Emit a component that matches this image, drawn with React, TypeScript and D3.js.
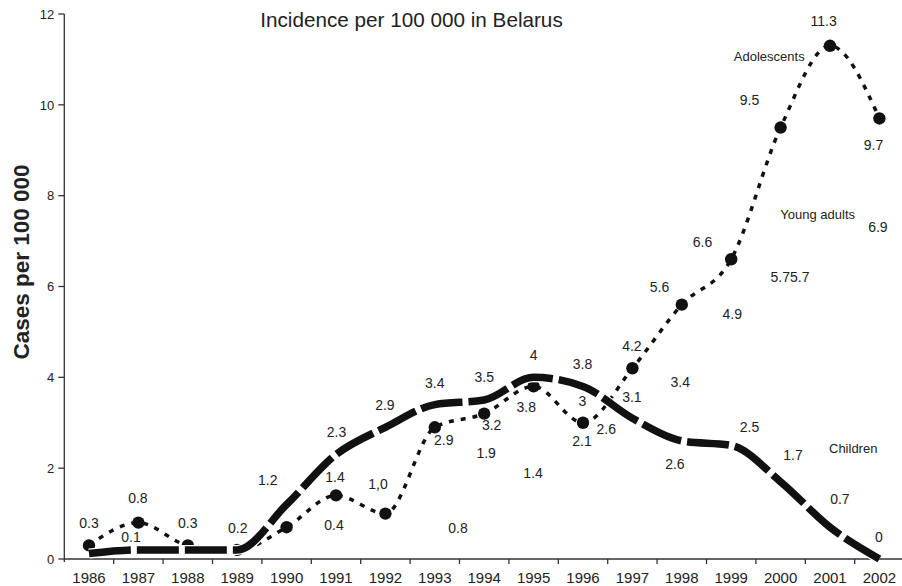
import React from "react";
import * as d3 from "d3";

const years = [1986, 1987, 1988, 1989, 1990, 1991, 1992, 1993, 1994, 1995, 1996, 1997, 1998, 1999, 2000, 2001, 2002];
const adolescents = [0.3, 0.8, 0.3, 0.2, 0.7, 1.4, 1.0, 2.9, 3.2, 3.8, 3.0, 4.2, 5.6, 6.6, 9.5, 11.3, 9.7];
const children = [0.12, 0.2, 0.2, 0.2, 1.2, 2.3, 2.9, 3.4, 3.5, 4.0, 3.8, 3.1, 2.6, 2.5, 1.7, 0.7, 0];
const yTicks = [0, 2, 4, 6, 8, 10, 12];

// value annotations: text, position in (year, value) units
const labelText = ["0.3", "0.8", "0.1", "0.3", "0.2", "1.2", "2.3", "1.4", "0.4", "2.9", "1,0", "3.4", "2.9", "0.8", "3.5", "3.2", "1.9", "4", "3.8", "1.4", "3.8", "3", "2.1", "2.6", "4.2", "3.1", "3.4", "2.6", "2.5", "1.7", "0.7", "0", "11.3", "9.5", "9.7", "6.9", "6.6", "5.75.7", "5.6", "4.9"];
const labelYear = [1986.0, 1986.99, 1986.85, 1988.0, 1989.01, 1989.62, 1991.01, 1990.98, 1990.96, 1991.99, 1991.85, 1993.0, 1993.18, 1993.47, 1994.0, 1994.15, 1994.04, 1995.0, 1994.85, 1994.99, 1995.99, 1995.99, 1995.98, 1996.47, 1996.99, 1996.99, 1997.97, 1997.86, 1999.37, 2000.25, 2001.2, 2001.99, 2000.87, 1999.37, 2001.88, 2001.97, 1998.42, 2000.19, 1997.55, 1999.02];
const labelValue = [0.79, 1.34, 0.49, 0.79, 0.69, 1.74, 2.79, 1.81, 0.76, 3.39, 1.65, 3.88, 2.62, 0.68, 4.0, 2.95, 2.33, 4.5, 3.35, 1.89, 4.29, 3.49, 2.6, 2.87, 4.68, 3.57, 3.89, 2.1, 2.9, 2.28, 1.32, 0.48, 11.85, 10.11, 9.12, 7.32, 6.98, 6.22, 5.98, 5.39];

const seriesNames = ["Adolescents", "Young adults", "Children"];
const seriesNameYear = [1999.77, 2000.75, 2001.47];
const seriesNameValue = [11.06, 7.58, 2.44];

const title = "Incidence per 100 000 in Belarus";
const yTitle = "Cases per 100 000";

export default function App() {
  const W = 902, H = 586;
  const left = 64.3, right = 904.1, top = 14, bottom = 559;
  const xBand = d3.scaleBand<number>().domain(years).range([left, right]).padding(0);
  const bw = xBand.bandwidth();
  const xLin = d3.scaleLinear().domain([years[0], years[years.length - 1]])
    .range([xBand(years[0])! + bw / 2, xBand(years[years.length - 1])! + bw / 2]);
  const y = d3.scaleLinear().domain([0, 12]).range([bottom, top]);

  const lineGen = d3.line<number>()
    .x((_, i) => xBand(years[i])! + bw / 2)
    .y((d) => y(d))
    .curve(d3.curveMonotoneX);

  const font = "'Liberation Sans', Arial, Helvetica, sans-serif";
  const txt = "#222";

  return (
    <svg width={W} height={H} style={{ position: "absolute", left: 0, top: 0, background: "#fff" }} fontFamily={font}>
      <rect x={0} y={0} width={W} height={H} fill="#fff" />
      {/* axes */}
      <line x1={left} x2={left} y1={top} y2={bottom + 3} stroke="#333" strokeWidth={1.3} />
      <line x1={left} x2={W} y1={bottom} y2={bottom} stroke="#333" strokeWidth={1.3} />
      {yTicks.map((t) => (
        <g key={t}>
          <line x1={left - 6} x2={left} y1={y(t)} y2={y(t)} stroke="#333" strokeWidth={1.3} />
          <text x={left - 10} y={y(t)} dy="0.36em" textAnchor="end" fontSize={13} fill={txt}>{t}</text>
        </g>
      ))}
      {years.map((yr, i) => (
        <g key={yr}>
          {i > 0 && <line x1={xBand(yr)!} x2={xBand(yr)!} y1={bottom} y2={bottom + 5} stroke="#333" strokeWidth={1.3} />}
          <text x={xBand(yr)! + bw / 2} y={583} textAnchor="middle" fontSize={15} fill={txt}>{yr}</text>
        </g>
      ))}
      {/* adolescents */}
      <path d={lineGen(adolescents)!} fill="none" stroke="#111" strokeWidth={3.5} strokeDasharray="5,7" />
      {adolescents.map((v, i) => (
        <circle key={i} cx={xBand(years[i])! + bw / 2} cy={y(v)} r={6.2} fill="#111" />
      ))}
      {/* children */}
      <path d={lineGen(children)!} fill="none" stroke="#fff" strokeWidth={10} />
      <path d={lineGen(children)!} fill="none" stroke="#111" strokeWidth={7.5} strokeDasharray="42,6" />
      {/* value labels */}
      {labelText.map((t, i) => (
        <text key={i} x={xLin(labelYear[i])} y={y(labelValue[i])} dy="0.36em" textAnchor="middle" fontSize={14} fill={txt}>{t}</text>
      ))}
      {seriesNames.map((t, i) => (
        <text key={t} x={xLin(seriesNameYear[i])} y={y(seriesNameValue[i])} dy="0.36em" textAnchor="middle" fontSize={13} fill={txt}>{t}</text>
      ))}
      <text x={411.5} y={27} textAnchor="middle" fontSize={20.7} fill={txt}>{title}</text>
      <text transform={`translate(29,262) rotate(-90)`} textAnchor="middle" fontSize={22.5} fontWeight="bold" fill={txt}>{yTitle}</text>
    </svg>
  );
}
